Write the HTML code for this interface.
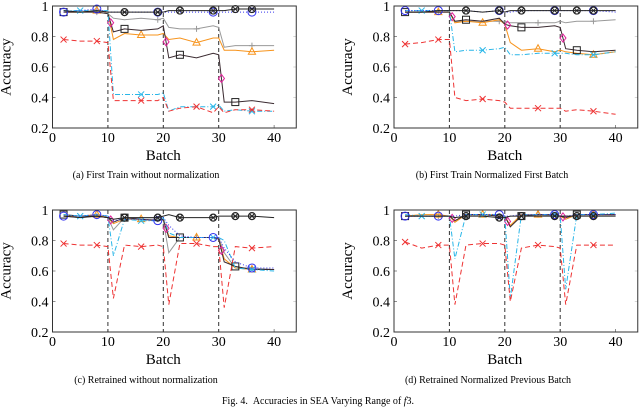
<!DOCTYPE html>
<html><head><meta charset="utf-8"><style>
body{margin:0;background:#fff;}
svg{display:block;font-family:"Liberation Serif",serif;}
</style></head><body>
<svg id="fig" width="640" height="409" viewBox="0 0 640 409" xmlns="http://www.w3.org/2000/svg"></svg>
<script>
const batches=[2,5,8,10,11,13,16,19,20,21,23,26,29,30,31,33,36,40];
const xTicks=[0,10,20,30,40];
const yTicks=[0.2,0.4,0.6,0.8,1];
const yTickLabels=["0.2","0.4","0.6","0.8","1"];
const drifts=[10,20,30];
// (a)
const aBlack=[0.97,0.96,0.97,0.96,0.96,0.96,0.96,0.96,0.96,0.97,0.97,0.97,0.97,0.97,0.97,0.98,0.98,0.98];
const aBlue=[0.96,0.97,0.98,0.96,0.96,0.96,0.96,0.96,0.96,0.96,0.96,0.96,0.96,0.96,0.96,0.96,0.96,0.96];
const aGray=[0.96,0.96,0.96,0.95,0.92,0.91,0.92,0.91,0.92,0.86,0.85,0.85,0.87,0.86,0.73,0.74,0.74,0.74];
const aOrange=[0.96,0.96,0.97,0.96,0.78,0.82,0.81,0.81,0.82,0.78,0.79,0.76,0.79,0.79,0.71,0.71,0.70,0.71];
const aDark=[0.96,0.96,0.96,0.95,0.83,0.85,0.84,0.85,0.87,0.66,0.68,0.66,0.69,0.68,0.37,0.37,0.38,0.36];
const aCyan=[0.97,0.97,0.97,0.97,0.42,0.42,0.42,0.42,0.43,0.31,0.34,0.34,0.34,0.35,0.31,0.32,0.31,0.31];
const aRed=[0.78,0.77,0.77,0.76,0.38,0.38,0.38,0.38,0.40,0.31,0.33,0.34,0.30,0.34,0.30,0.32,0.32,0.31];
// (b)
const bBlack=[0.96,0.96,0.97,0.97,0.97,0.97,0.96,0.97,0.96,0.97,0.97,0.97,0.97,0.97,0.97,0.97,0.97,0.97];
const bBlue=[0.97,0.97,0.97,0.97,0.97,0.97,0.96,0.97,0.96,0.96,0.97,0.97,0.97,0.97,0.97,0.97,0.97,0.96];
const bGray=[0.96,0.96,0.96,0.96,0.90,0.90,0.90,0.90,0.90,0.89,0.89,0.89,0.89,0.90,0.89,0.90,0.90,0.91];
const bOrange=[0.96,0.96,0.96,0.96,0.89,0.90,0.89,0.91,0.88,0.76,0.71,0.72,0.70,0.71,0.70,0.69,0.68,0.70];
const bDark=[0.96,0.96,0.96,0.96,0.90,0.91,0.90,0.92,0.88,0.87,0.86,0.86,0.87,0.86,0.72,0.71,0.70,0.71];
const bCyan=[0.97,0.97,0.97,0.97,0.70,0.71,0.71,0.72,0.73,0.68,0.68,0.69,0.69,0.69,0.69,0.68,0.68,0.70];
const bRed=[0.75,0.76,0.78,0.78,0.40,0.38,0.39,0.38,0.37,0.33,0.33,0.33,0.33,0.33,0.31,0.32,0.31,0.29];
// (c)
const cBlack=[0.96,0.95,0.96,0.95,0.94,0.95,0.95,0.95,0.96,0.97,0.95,0.95,0.95,0.96,0.96,0.96,0.96,0.95];
const cBlue=[0.96,0.96,0.97,0.96,0.93,0.94,0.94,0.93,0.95,0.90,0.83,0.82,0.82,0.82,0.75,0.66,0.62,0.62];
const cGray=[0.96,0.95,0.96,0.95,0.87,0.95,0.94,0.94,0.93,0.72,0.82,0.82,0.82,0.82,0.72,0.62,0.62,0.61];
const cOrange=[0.96,0.96,0.97,0.95,0.91,0.94,0.94,0.93,0.94,0.83,0.82,0.82,0.82,0.81,0.68,0.62,0.61,0.61];
const cDark=[0.97,0.96,0.96,0.95,0.92,0.95,0.94,0.93,0.94,0.82,0.82,0.82,0.82,0.81,0.66,0.63,0.61,0.61];
const cCyan=[0.97,0.96,0.97,0.96,0.70,0.94,0.93,0.93,0.95,0.85,0.82,0.82,0.82,0.82,0.80,0.62,0.61,0.60];
const cRed=[0.78,0.77,0.77,0.76,0.42,0.77,0.76,0.77,0.76,0.38,0.78,0.78,0.76,0.76,0.36,0.76,0.75,0.76];
// (d)
const dBlack=[0.96,0.96,0.96,0.96,0.95,0.96,0.96,0.95,0.95,0.96,0.96,0.96,0.96,0.96,0.96,0.96,0.96,0.96];
const dBlue=[0.96,0.96,0.96,0.96,0.96,0.97,0.97,0.97,0.96,0.96,0.97,0.97,0.97,0.96,0.96,0.97,0.97,0.97];
const dGray=[0.96,0.96,0.96,0.96,0.92,0.97,0.97,0.96,0.96,0.89,0.97,0.97,0.96,0.96,0.94,0.97,0.97,0.97];
const dOrange=[0.96,0.97,0.97,0.96,0.92,0.97,0.97,0.97,0.96,0.90,0.97,0.97,0.97,0.96,0.94,0.97,0.97,0.97];
const dDark=[0.96,0.96,0.96,0.96,0.93,0.97,0.97,0.96,0.96,0.89,0.96,0.97,0.97,0.96,0.95,0.97,0.97,0.97];
const dCyan=[0.97,0.96,0.96,0.96,0.68,0.97,0.97,0.97,0.96,0.42,0.97,0.97,0.97,0.96,0.48,0.97,0.97,0.98];
const dRed=[0.79,0.75,0.77,0.77,0.38,0.77,0.78,0.78,0.77,0.40,0.75,0.77,0.76,0.75,0.38,0.77,0.77,0.77];

const NS="http://www.w3.org/2000/svg";
const svg=document.getElementById('fig');
function mk(tag,attrs,parent,txt){const e=document.createElementNS(NS,tag);for(const k in attrs)e.setAttribute(k,attrs[k]);if(txt!==undefined)e.textContent=txt;(parent||svg).appendChild(e);return e;}

const styles={
 gray:{stroke:'#999',dash:'',mk:'star',mi:[2,7,11,16]},
 orange:{stroke:'#f7941d',dash:'',mk:'tri',mi:[2,6,11,16]},
 dark:{stroke:'#3a2a30',dash:'',mk:'sq',mi:[0,5,10,15]},
 cyan:{stroke:'#29b6e8',dash:'5,2,1,2',mk:'x',mi:[1,6,12,16]},
 red:{stroke:'#ee3333',dash:'5,3',mk:'x',mi:[0,2,6,11,16]},
 blue:{stroke:'#3333ee',dash:'1,2',mk:'circ',mi:[0,2,7,12,16]},
 black:{stroke:'#222',dash:'',mk:'otimes',mi:[5,7,10,12,15,16]}
};
function marker(g,kind,x,y,color){
 if(kind==='sq'){mk('rect',{x:x-3.5,y:y-3.5,width:7,height:7,fill:'none',stroke:'#222','stroke-width':1},g);}
 else if(kind==='tri'){mk('path',{d:`M${x},${y-4}L${x+3.6},${y+2.5}L${x-3.6},${y+2.5}Z`,fill:'none',stroke:color,'stroke-width':1},g);}
 else if(kind==='circ'){mk('circle',{cx:x,cy:y,r:4,fill:'none',stroke:color,'stroke-width':1},g);}
 else if(kind==='x'){mk('path',{d:`M${x-3},${y-3}L${x+3},${y+3}M${x-3},${y+3}L${x+3},${y-3}`,stroke:color,'stroke-width':1},g);}
 else if(kind==='star'){mk('path',{d:`M${x-3},${y}L${x+3},${y}M${x},${y-3}L${x},${y+3}`,stroke:color,'stroke-width':1},g);}
 else if(kind==='otimes'){mk('circle',{cx:x,cy:y,r:3.5,fill:'none',stroke:'#222','stroke-width':1.2},g);mk('path',{d:`M${x-2.5},${y-2.5}L${x+2.5},${y+2.5}M${x-2.5},${y+2.5}L${x+2.5},${y-2.5}`,stroke:'#222','stroke-width':1},g);}
 else if(kind==='dia'){mk('path',{d:`M${x},${y-4}L${x+3},${y}L${x},${y+4}L${x-3},${y}Z`,fill:'none',stroke:color,'stroke-width':1},g);}
}

function panel(id,x0,top,bottom,series,caption,capX,capY){
 const g=mk('g',{},svg);
 
 
 const sx=v=>x0+v*5.54;
 const sy=v=>bottom-(v-0.2)/0.8*(bottom-top);
 const right=sx(44);
 // ticks
 yTicks.forEach((t,i)=>{
  const y=sy(t);
  mk('line',{x1:x0,x2:x0+3,y1:y,y2:y,stroke:'#444','stroke-width':0.6},g);
  mk('line',{x1:right-3,x2:right,y1:y,y2:y,stroke:'#bbb','stroke-width':0.6},g);
  const tl=mk('text',{x:x0-4,y:y+5,'text-anchor':'end','font-size':14},g,yTickLabels[i]);
  
  
 });
 xTicks.forEach(t=>{
  const x=sx(t);
  mk('line',{x1:x,x2:x,y1:bottom,y2:bottom-3,stroke:'#444','stroke-width':0.6},g);
  const tl=mk('text',{x:x,y:bottom+14,'text-anchor':'middle','font-size':14},g,String(t));
  
  
 });
 drifts.forEach(d=>{
  const l=mk('line',{x1:sx(d),x2:sx(d),y1:top,y2:bottom,stroke:'#333','stroke-width':1,'stroke-dasharray':'4,3'},g);
  
  
 });
 series.forEach(s=>{
  const st=styles[s.k];
  const pts=batches.map((b,i)=>sx(b).toFixed(1)+','+sy(s.v[i]).toFixed(1)).join(' ');
  const pl=mk('polyline',{points:pts,fill:'none',stroke:st.stroke,'stroke-width':1,'stroke-dasharray':st.dash},g);
  
  
  st.mi.forEach(i=>marker(g,st.mk,sx(batches[i]),sy(s.v[i]),st.stroke));
  if(s.k==='dark'){[3,8,13,17].forEach(i=>{if(i<batches.length-1)marker(g,'dia',sx((batches[i]+batches[i+1])/2),sy((s.v[i]+s.v[i+1])/2),'#e0209a');});}
 });
 const fr=mk('rect',{x:x0,y:top,width:right-x0,height:bottom-top,fill:'none',stroke:'#333','stroke-width':1},g);
 
 
 const xl=mk('text',{x:sx(20),y:bottom+32,'text-anchor':'middle','font-size':15},g,'Batch');
 
 
 const cy=(top+bottom)/2;
 const yl=mk('text',{x:x0-42,y:cy,'text-anchor':'middle','font-size':15,transform:`rotate(-90 ${x0-42} ${cy})`},g,'Accuracy');
 
 
 const c=mk('text',{x:capX,y:capY,'text-anchor':'middle','font-size':10},g,caption);
 
 
}
const order=(o)=>['gray','orange','dark','cyan','red','blue','black'].map(k=>({k:k,v:o[k]}));
panel('a',52.5,6,128,order({gray:aGray,orange:aOrange,dark:aDark,cyan:aCyan,red:aRed,blue:aBlue,black:aBlack}),'(a) First Train without normalization',146,178);
panel('b',394,6,128,order({gray:bGray,orange:bOrange,dark:bDark,cyan:bCyan,red:bRed,blue:bBlue,black:bBlack}),'(b) First Train Normalized First Batch',492,178);
panel('c',52.5,210,332,order({gray:cGray,orange:cOrange,dark:cDark,cyan:cCyan,red:cRed,blue:cBlue,black:cBlack}),'(c) Retrained without normalization',146,383);
panel('d',394,210,332,order({gray:dGray,orange:dOrange,dark:dDark,cyan:dCyan,red:dRed,blue:dBlue,black:dBlack}),'(d) Retrained Normalized Previous Batch',488,383);
const fc=mk('text',{x:318,y:404,'text-anchor':'middle','font-size':10},svg);


fc.innerHTML='Fig. 4.&#160;&#160;Accuracies in SEA Varying Range of <tspan font-style="italic">f</tspan>3.';
</script>
</body></html>
